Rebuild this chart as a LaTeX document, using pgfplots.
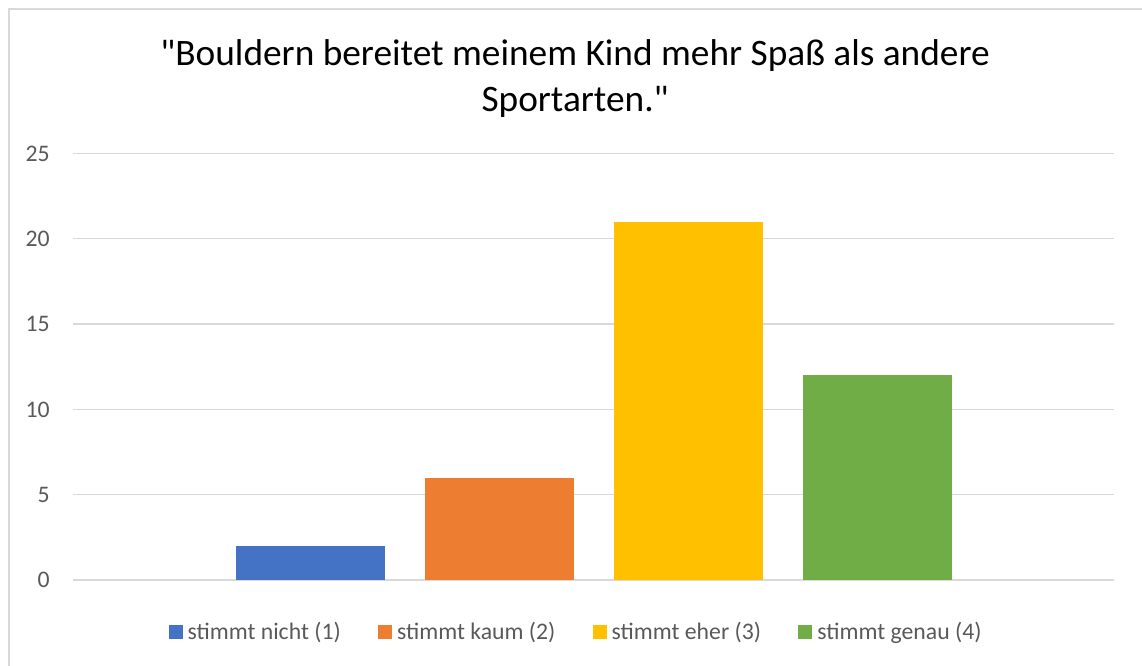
\documentclass[border=0pt]{standalone}
\usepackage{pgfplots}
\pgfplotsset{compat=1.18}
\usepackage{fontspec}
\setmainfont{Carlito}
\definecolor{cblue}{HTML}{4472C4}
\definecolor{corange}{HTML}{ED7D31}
\definecolor{cgold}{HTML}{FFC000}
\definecolor{cgreen}{HTML}{70AD47}
\definecolor{cgrid}{HTML}{D9D9D9}
\definecolor{ctext}{HTML}{595959}
\begin{document}
\begin{tikzpicture}
\useasboundingbox (0,0) rectangle (856.5pt,499.5pt);
\draw[cgrid, line width=0.9pt] (6.75pt,-5pt) -- (6.75pt,492.75pt) -- (860pt,492.75pt);
\begin{axis}[
  at={(54.75pt,64.5pt)}, anchor=south west,
  scale only axis, width=780.75pt, height=319.9pt,
  xmin=-0.5, xmax=0.5, ymin=0, ymax=25,
  ytick={0,5,10,15,20,25}, xtick=\empty,
  ymajorgrids, major grid style={cgrid, line width=0.9pt},
  axis line style={draw=none}, tick style={draw=none},
  /pgf/number format/assume math mode=true,
  yticklabel style={font=\fontsize{17.8pt}{21pt}\selectfont, color=ctext, anchor=east, inner sep=0pt, xshift=-17.25pt},
  ybar=30pt, bar width=111.75pt,
  title={\textquotedbl Bouldern bereitet meinem Kind mehr Spaß als andere\\Sportarten.\textquotedbl},
  title style={font=\fontsize{28pt}{34.5pt}\selectfont, align=center, at={(0.4823,1.25)}, anchor=north, inner sep=0pt},
  legend columns=4,
  legend style={draw=none, fill=none, at={(0.4823,-0.122)}, anchor=center,
    font=\fontsize{17.8pt}{21pt}\selectfont, text=ctext,
    nodes={inner sep=0pt},
    /tikz/every odd column/.append style={column sep=3.75pt},
    /tikz/every even column/.append style={column sep=28pt}},
  legend image code/.code={\fill[#1] (0pt,-5.25pt) rectangle (10.5pt,5.25pt);},
]
\addplot[fill=cblue, draw=none] coordinates {(0,2)};
\addplot[fill=corange, draw=none] coordinates {(0,6)};
\addplot[fill=cgold, draw=none] coordinates {(0,21)};
\addplot[fill=cgreen, draw=none] coordinates {(0,12)};
\legend{stimmt nicht (1), stimmt kaum (2), stimmt eher (3), stimmt genau (4)}
\end{axis}
\end{tikzpicture}
\end{document}
